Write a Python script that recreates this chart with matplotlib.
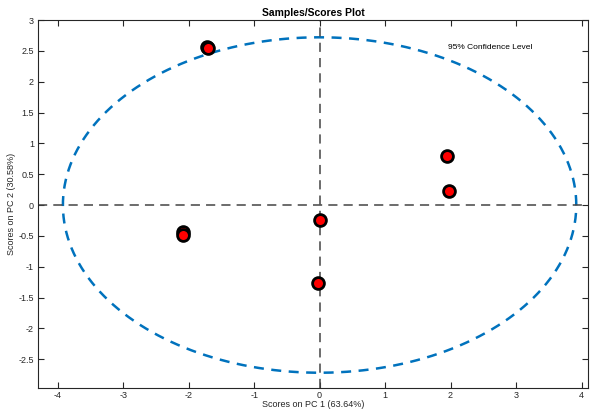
import numpy as np
import matplotlib.pyplot as plt

plt.rcParams["font.family"] = ["Liberation Sans", "DejaVu Sans"]

# scores on PC1 / PC2
pc1 = [-1.72, -1.70, 1.95, 1.98, 0.00, -0.02, -2.08, -2.08]
pc2 = [2.57, 2.55, 0.80, 0.22, -0.24, -1.27, -0.43, -0.48]

# 95% confidence ellipse semi-axes
conf_a = 3.92
conf_b = 2.72

xticks = [-4, -3, -2, -1, 0, 1, 2, 3, 4]
yticks = [-2.5, -2, -1.5, -1, -0.5, 0, 0.5, 1, 1.5, 2, 2.5, 3]

fig = plt.figure(figsize=(5.94, 4.09), dpi=100)
ax = fig.add_axes([0.064, 0.051, 0.926, 0.9])

t = np.linspace(0, 2 * np.pi, 400)
ax.plot(conf_a * np.cos(t), conf_b * np.sin(t), color="#0072BD", lw=1.8,
        dashes=(4, 3))
ax.axhline(0, color="#444444", lw=1.1, dashes=(6, 4))
ax.axvline(0, color="#444444", lw=1.1, dashes=(6, 4))

ax.plot(pc1, pc2, "o", color="red", markeredgecolor="black",
        markersize=8.5, markeredgewidth=2, linestyle="none")

ax.text(1.96, 2.53, "95% Confidence Level", fontsize=6)

ax.set_xlim(-4.3, 4.1)
ax.set_ylim(-2.97, 3)
ax.set_xticks(xticks)
ax.set_yticks(yticks)
ax.set_xticklabels([str(v) for v in xticks])
ax.set_yticklabels(["%g" % v for v in yticks])
ax.tick_params(direction="in", top=True, right=True, labelsize=6.5,
               length=4, width=0.8, colors="#262626")
ax.tick_params(axis="x", pad=2)
ax.tick_params(axis="y", pad=3)
for s in ax.spines.values():
    s.set_linewidth(0.8)
    s.set_color("#262626")

ax.set_title("Samples/Scores Plot", fontsize=7.5, fontweight="bold", pad=3)
ax.set_xlabel("Scores on PC 1 (63.64%)", fontsize=6.5, labelpad=0,
              color="#262626")
ax.set_ylabel("Scores on PC 2 (30.58%)", fontsize=6.5, labelpad=2,
              color="#262626")

fig.savefig("out.png", dpi=100)
